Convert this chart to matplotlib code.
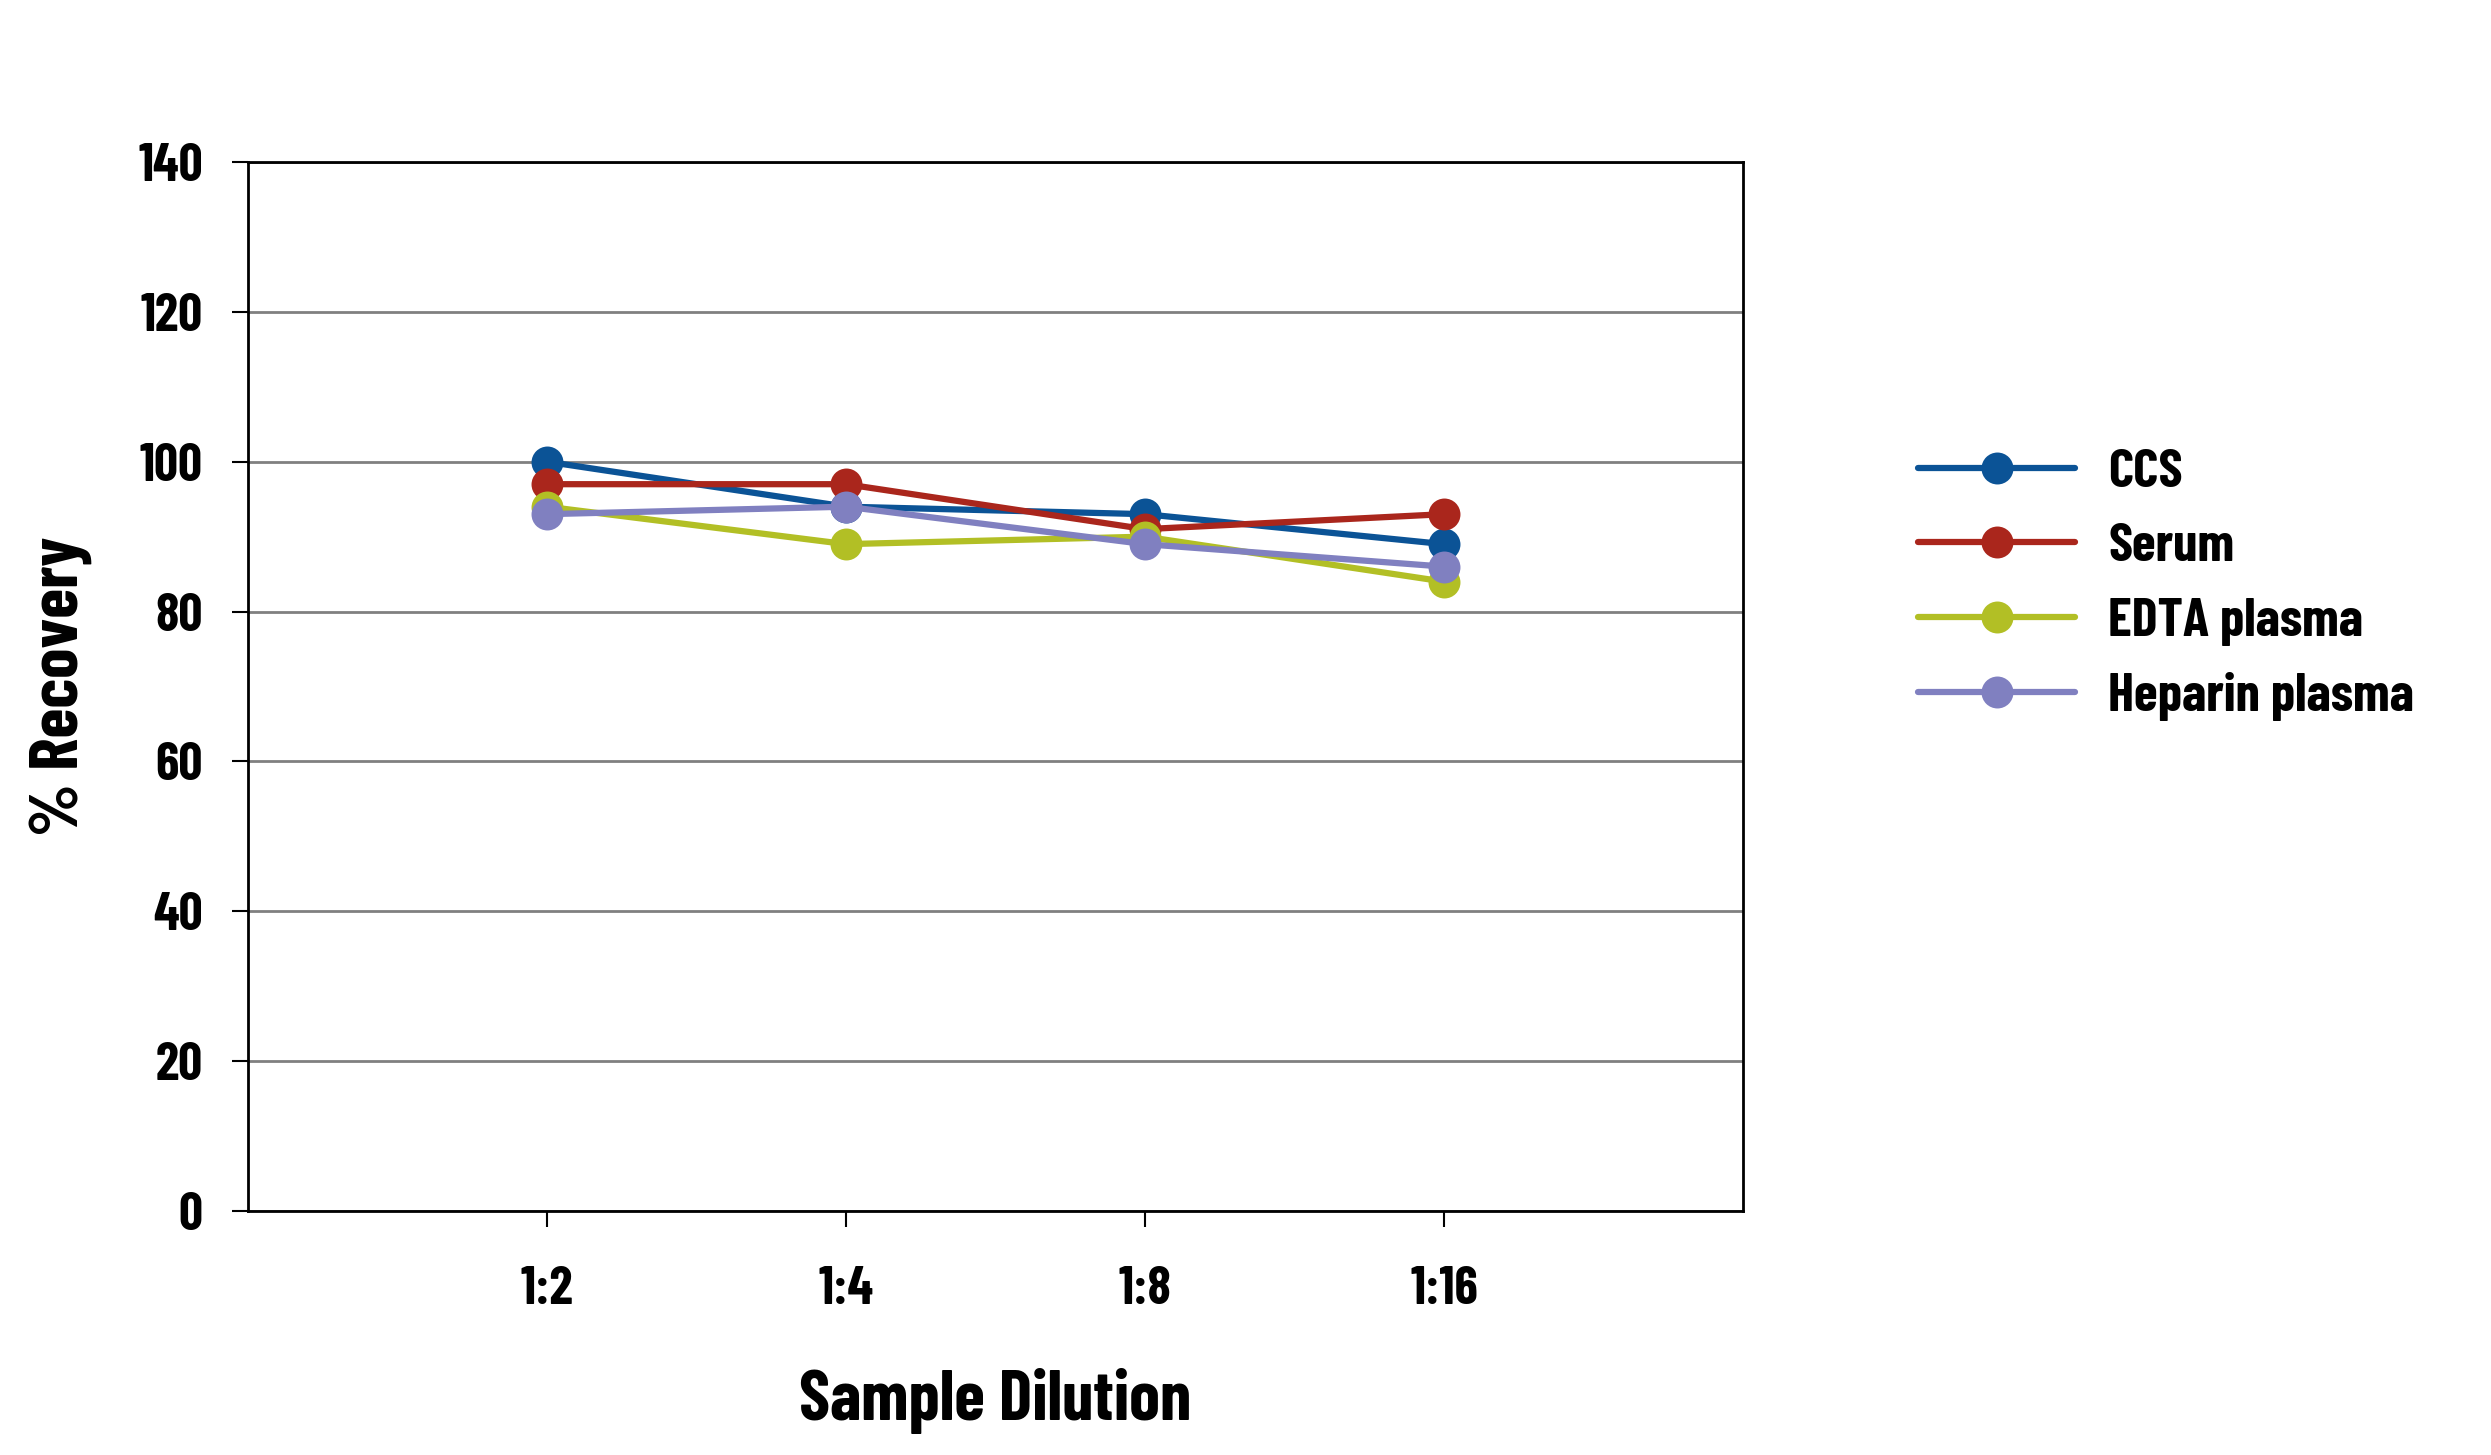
import matplotlib
matplotlib.use("Agg")
import matplotlib.pyplot as plt
import matplotlib.font_manager as fm
from matplotlib.textpath import TextPath

categories = ["1:2", "1:4", "1:8", "1:16"]
ccs = [100, 94, 93, 89]
serum = [97, 97, 91, 93]
edta = [94, 89, 90, 84]
heparin = [93, 94, 89, 86]
series_names = ["CCS", "Serum", "EDTA plasma", "Heparin plasma"]
series_values = [ccs, serum, edta, heparin]
series_colors = ["#0b5396", "#aa261c", "#b2bf25", "#8080c0"]
y_ticks = [0, 20, 40, 60, 80, 100, 120, 140]


def _wnum(w):
    if isinstance(w, (int, float)):
        return w
    return {'bold': 700, 'semibold': 600, 'demibold': 600, 'heavy': 800,
            'black': 900, 'extra bold': 800, 'normal': 400, 'regular': 400,
            'medium': 500, 'light': 300}.get(str(w).lower(), 400)


def _ratio(fname):
    try:
        p = fm.FontProperties(fname=fname, size=100)
        w = TextPath((0, 0), "Sample Dilution", prop=p).get_extents().width
        h = TextPath((0, 0), "H", prop=p).get_extents().height
        return w / h, h / 100.0
    except Exception:
        return None, None


# target: width of "Sample Dilution" / cap height in the reference ~ 7.8
TARGET = 7.8
best = None
for f in fm.fontManager.ttflist:
    if 'italic' in f.style or 'oblique' in f.style:
        continue
    wn = _wnum(f.weight)
    if wn < 600:
        continue
    r, caph = _ratio(f.fname)
    if r is None:
        continue
    score = abs(r - TARGET) + 0.002 * abs(wn - 700)
    if best is None or score < best[0]:
        best = (score, f.fname, caph)

font_file = best[1]
cap_frac = best[2]


def FP(cap_px):
    size_px = cap_px / cap_frac
    return fm.FontProperties(fname=font_file, size=size_px * 72 / 100)


fig = plt.figure(figsize=(24.91, 14.55), dpi=100)
ax = fig.add_axes([248/2491, 1-1211/1455, (1743-248)/2491, (1211-162)/1455])

x = list(range(1, len(categories)+1))
for name, vals, col in zip(series_names, series_values, series_colors):
    ax.plot(x, vals, color=col, lw=4.5, marker='o', markersize=23,
            markeredgewidth=0, label=name, solid_capstyle='round')

ax.set_xlim(0, 5)
ax.set_ylim(0, 140)
ax.set_yticks(y_ticks)
ax.set_xticks(x)
ax.set_xticklabels(categories)
ax.yaxis.grid(True, color='#808080', lw=2)
ax.set_axisbelow(True)
for s in ax.spines.values():
    s.set_linewidth(2)
    s.set_color('black')
ax.tick_params(axis='both', direction='out', length=11.5, width=1.5)
ax.tick_params(axis='y', pad=21)
ax.tick_params(axis='x', pad=28)
for lab in ax.get_xticklabels() + ax.get_yticklabels():
    lab.set_fontproperties(FP(37))

xl = ax.set_xlabel("Sample Dilution", fontproperties=FP(49))
yl = ax.set_ylabel("% Recovery", fontproperties=FP(48))
ax.xaxis.set_label_coords(0.5, (1211 - 1368) / 1049)
ax.yaxis.set_label_coords((92 - 248) / 1495, 0.5)

leg = fig.legend(loc='center left', bbox_to_anchor=(1918/2491, 1-585/1455),
                 frameon=False, prop=FP(38), handlelength=2.9,
                 handletextpad=0.6, labelspacing=0.48, borderpad=0,
                 borderaxespad=0)

fig.savefig("out.png", dpi=100)
